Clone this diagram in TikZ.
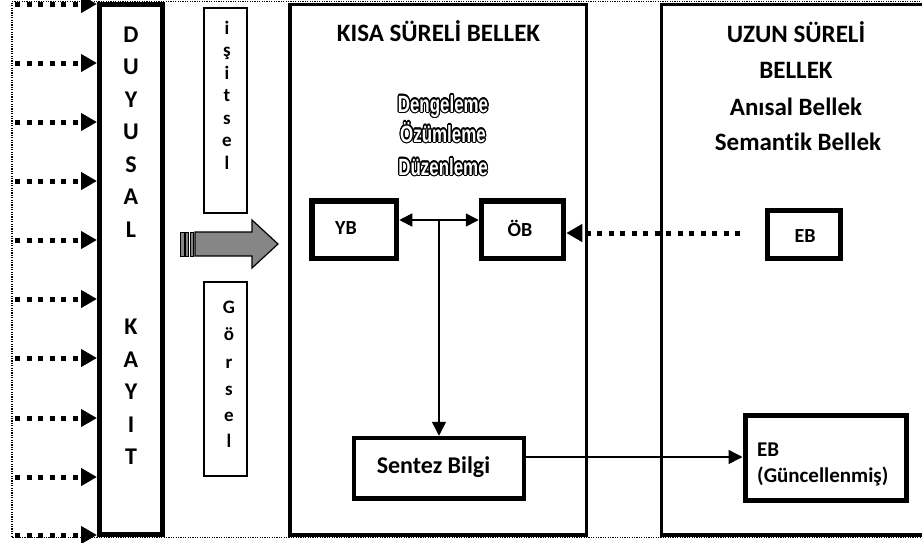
\documentclass[tikz,border=0pt]{standalone}
\usepackage{fontspec}
\setmainfont{Carlito}[Ligatures=NoCommon]
\newfontfamily\narrowfont[FakeStretch=0.72]{Liberation Sans}
\usepackage[copies]{contour}
\contourlength{1.2pt}
\usetikzlibrary{arrows.meta}
\tikzset{
  box/.style={draw,line width=#1,inner sep=0pt,anchor=center},
  lbl/.style={font=\bfseries\fontsize{25}{29}\selectfont,inner sep=0pt},
  small/.style={font=\bfseries\fontsize{20}{24}\selectfont,inner sep=0pt},
  letter/.style={font=\bfseries\fontsize{24}{28}\selectfont,inner sep=0pt,anchor=base},
  sletter/.style={font=\bfseries\fontsize{19}{23}\selectfont,inner sep=0pt,anchor=base},
  outl/.style={font=\narrowfont\bfseries\fontsize{23.5}{28}\selectfont,inner sep=0pt,anchor=base},
  dotarrow/.style={line width=5pt,dash pattern=on 5pt off 6.5pt,line cap=butt,
    -{Triangle[length=16pt,width=17pt]}},
  thinarrow/.style={line width=1.5pt,-{Triangle[length=14pt,width=14pt]}},
  dblarrow/.style={line width=1.5pt,{Triangle[length=13pt,width=13pt]}-{Triangle[length=13pt,width=13pt]}},
  frame/.style={line width=1.3pt,dash pattern=on 1.2pt off 1.2pt}
}
\begin{document}
\begin{tikzpicture}[x=1pt,y=-1pt]
\useasboundingbox (0,0) rectangle (922,542);
\clip (0,0) rectangle (922,542);
% outer dotted frame
\draw[frame] (930,1.5) -- (12,1.5) -- (12,537.5) -- (930,537.5);
% main boxes
\node[box=5pt,minimum width=63pt,minimum height=530pt] (duy) at (131,269.5) {};
\node[box=1.5pt,minimum width=43pt,minimum height=205pt] (isit) at (225.5,110.5) {};
\node[box=1.5pt,minimum width=43pt,minimum height=194pt] (gors) at (225.5,379) {};
\node[box=3.5pt,minimum width=296.5pt,minimum height=530.5pt] (ksb) at (438.25,269.75) {};
\node[box=3.5pt,minimum width=290pt,minimum height=530.5pt] (uzb) at (806.5,269.75) {};
\node[box=5.5pt,minimum width=84.5pt,minimum height=57.5pt] (yb) at (354.25,229.75) {};
\node[box=5.5pt,minimum width=82pt,minimum height=57.5pt] (ob) at (522.5,229.75) {};
\node[box=5pt,minimum width=73pt,minimum height=48pt] (eb) at (803.5,234.5) {};
\node[box=4.5pt,minimum width=170pt,minimum height=60.5pt] (sentez) at (439,468.25) {};
\node[box=5pt,minimum width=161pt,minimum height=85pt] (ebg) at (825.5,457.5) {};
% box texts
\node[small] (ybt) at (346,228) {YB};
\node[small] (obt) at (520,228) {ÖB};
\node[small] (ebt) at (805,236) {EB};
\node[lbl,anchor=base,font=\bfseries\fontsize{24}{28}\selectfont] (sentt) at (433.5,473) {Sentez Bilgi};
\node[font=\bfseries\fontsize{21}{25}\selectfont,inner sep=0pt,anchor=base west] (ebg1) at (757,456) {EB};
\node[font=\bfseries\fontsize{21}{25}\selectfont,inner sep=0pt,anchor=base west] (ebg2) at (757,482) {(Güncellenmiş)};
% titles
\node[lbl,anchor=base] (ksbt) at (438.5,41) {KISA SÜRELİ BELLEK};
\node[lbl,anchor=base] (uz1) at (796,42) {UZUN SÜRELİ};
\node[lbl,anchor=base] (uz2) at (796,78) {BELLEK};
\node[lbl,anchor=base] (uz3) at (796,115) {Anısal Bellek};
\node[lbl,anchor=base] (uz4) at (798,150) {Semantik Bellek};
\node[outl] (dg1) at (443,112) {\contour{black}{\textcolor{white}{Dengeleme}}};
\node[outl] (dg2) at (443,142) {\contour{black}{\textcolor{white}{Özümleme}}};
\node[outl] (dg3) at (443,175) {\contour{black}{\textcolor{white}{Düzenleme}}};
% DUYUSAL KAYIT letters
\foreach \l/\y [count=\i] in {D/42,U/74.5,Y/107,U/139.5,S/172,A/204.5,L/237,K/334.5,A/367,Y/399.5,I/432,T/464.5}
  \node[letter] (dk\i) at (131,\y) {\l};
% işitsel letters
\foreach \l/\y [count=\i] in {i/34,ş/56,i/79,t/101,s/124,e/146,l/169}
  \node[sletter] (is\i) at (227,\y) {\l};
% görsel letters
\foreach \l/\y [count=\i] in {G/313,ö/340,r/368,s/395,e/421,l/447}
  \node[sletter] (go\i) at (229,\y) {\l};
% dotted input arrows
\foreach \y [count=\i] in {4,63,122,181,240,299,358,418,477,535} {
  \coordinate (in\i) at (15,\y);
  \draw[dotarrow] (in\i) -- (duy.west |- in\i);
}
% big gray arrow
\fill[gray!95] (195,232) -- (252,232) -- (252,220) -- (278,244) -- (252,268) -- (252,256) -- (195,256) -- cycle;
\draw[line width=1.2pt,line join=miter] (195,232) -- (252,232) -- (252,220) -- (278,244) -- (252,268) -- (252,256) -- (195,256) -- cycle;
\foreach \a/\b in {180/184,185.5/188.5,190/193.5}
  \draw[line width=1pt,fill=gray!95] (\a,232) rectangle (\b,256);
% connectors
\coordinate (mid) at (439,220);
\draw[dblarrow] (yb.east |- mid) -- (ob.west |- mid);
\draw[thinarrow] (mid) -- (mid |- sentez.north);
\coordinate (sa) at (528,457);
\draw[thinarrow] (sentez.east |- sa) -- (ebg.west |- sa);
\coordinate (ebs) at (740,233);
\draw[dotarrow] (ebs) -- (ob.east |- ebs);
\end{tikzpicture}
\end{document}
